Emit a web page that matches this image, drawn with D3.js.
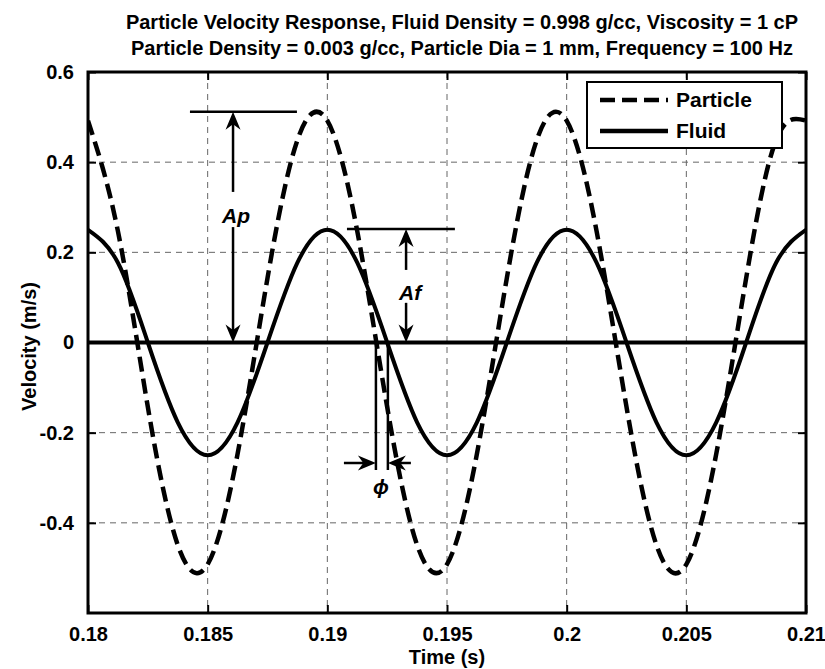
<!DOCTYPE html>
<html>
<head>
<meta charset="utf-8">
<script src="https://cdn.jsdelivr.net/npm/d3@7"></script>
<style>
  body { margin: 0; background: #fff; }
  text { font-family: "Liberation Sans", Arial, sans-serif; font-weight: bold; }
</style>
</head>
<body>
<svg width="825" height="669"></svg>
<script>
// time samples (s), every 1/8 period
var times = [0.18, 0.18125, 0.1825, 0.18375, 0.185, 0.18625, 0.1875, 0.18875,
             0.19, 0.19125, 0.1925, 0.19375, 0.195, 0.19625, 0.1975, 0.19875,
             0.2, 0.20125, 0.2025, 0.20375, 0.205, 0.20625, 0.2075, 0.20875, 0.21];
var fluidVel = [0.25, 0.177, 0, -0.177, -0.25, -0.177, 0, 0.177,
                0.25, 0.177, 0, -0.177, -0.25, -0.177, 0, 0.177,
                0.25, 0.177, 0, -0.177, -0.25, -0.177, 0, 0.177, 0.25];
var particleVel = [0.492, 0.247, -0.143, -0.449, -0.492, -0.247, 0.143, 0.449,
                   0.492, 0.247, -0.143, -0.449, -0.492, -0.247, 0.143, 0.449,
                   0.492, 0.247, -0.143, -0.449, -0.492, -0.247, 0.143, 0.449, 0.492];
var xTicks = [0.18, 0.185, 0.19, 0.195, 0.2, 0.205, 0.21];
var xTickLabels = ["0.18", "0.185", "0.19", "0.195", "0.2", "0.205", "0.21"];
var yTicks = [-0.4, -0.2, 0, 0.2, 0.4, 0.6];
var yTickLabels = ["-0.4", "-0.2", "0", "0.2", "0.4", "0.6"];
var seriesNames = ["Particle", "Fluid"];

// annotation values (data units)
var ampP = 0.512, ampF = 0.252;
var zeroP = 0.19203, zeroF = 0.19253;

var svg = d3.select("svg"),
    pL = 88, pR = 806, pT = 72, pB = 613;

var x = d3.scaleLinear().domain([0.18, 0.21]).range([pL, pR]);
var y = d3.scaleLinear().domain([-0.6, 0.6]).range([pB, pT]);

svg.append("rect").attr("width", 825).attr("height", 669).attr("fill", "#fff");

// title
var title = ["Particle Velocity Response, Fluid Density = 0.998 g/cc, Viscosity = 1 cP",
             "Particle Density = 0.003 g/cc, Particle Dia = 1 mm, Frequency = 100 Hz"];
svg.selectAll(".title").data(title).enter().append("text")
    .attr("x", (pL + pR) / 2 + 15)
    .attr("y", function(d, i) { return 29 + i * 26; })
    .attr("text-anchor", "middle")
    .attr("font-size", 20)
    .text(function(d) { return d; });

// grid
var grid = svg.append("g").attr("stroke", "#666").attr("stroke-width", 1).attr("stroke-dasharray", "6,5");
grid.selectAll("line.gx").data(xTicks.slice(1, -1)).enter().append("line")
    .attr("x1", function(d) { return x(d); }).attr("x2", function(d) { return x(d); })
    .attr("y1", pT).attr("y2", pB);
grid.selectAll("line.gy").data(yTicks.filter(function(d) { return d != 0 && d != 0.6; })).enter().append("line")
    .attr("y1", function(d) { return y(d); }).attr("y2", function(d) { return y(d); })
    .attr("x1", pL).attr("x2", pR);

// axes with inward ticks, box on
svg.append("g").attr("transform", "translate(0," + pB + ")")
    .call(d3.axisBottom(x).tickValues(xTicks).tickSize(-8).tickPadding(14)
        .tickFormat(function(d, i) { return xTickLabels[i]; }))
    .call(function(g) { g.select(".domain").remove(); });
svg.append("g").attr("transform", "translate(" + pL + ",0)")
    .call(d3.axisLeft(y).tickValues(yTicks).tickSize(-8).tickPadding(14)
        .tickFormat(function(d, i) { return yTickLabels[i]; }))
    .call(function(g) { g.select(".domain").remove(); });
svg.append("g").attr("transform", "translate(0," + pT + ")")
    .call(d3.axisTop(x).tickValues(xTicks).tickSize(-8).tickFormat(""))
    .call(function(g) { g.select(".domain").remove(); });
svg.append("g").attr("transform", "translate(" + pR + ",0)")
    .call(d3.axisRight(y).tickValues(yTicks).tickSize(-8).tickFormat(""))
    .call(function(g) { g.select(".domain").remove(); });
svg.selectAll(".tick line").attr("stroke", "#000").attr("stroke-width", 2);
svg.selectAll(".tick text").attr("font-size", 20).attr("fill", "#000")
    .attr("font-family", "Liberation Sans, Arial, sans-serif").attr("font-weight", "bold");

// curves
svg.append("clipPath").attr("id", "clip").append("rect")
    .attr("x", pL).attr("y", pT).attr("width", pR - pL).attr("height", pB - pT);
var plot = svg.append("g").attr("clip-path", "url(#clip)");

var line = d3.line().curve(d3.curveNatural)
    .x(function(d) { return x(d[0]); })
    .y(function(d) { return y(d[1]); });

plot.append("line")
    .attr("x1", x(0.18)).attr("x2", x(0.21)).attr("y1", y(0)).attr("y2", y(0))
    .attr("stroke", "#000").attr("stroke-width", 4);

plot.append("path")
    .datum(times.map(function(t, i) { return [t, fluidVel[i]]; }))
    .attr("d", line).attr("fill", "none").attr("stroke", "#000").attr("stroke-width", 4);

plot.append("path")
    .datum(times.map(function(t, i) { return [t, particleVel[i]]; }))
    .attr("d", line).attr("fill", "none").attr("stroke", "#000").attr("stroke-width", 4.5)
    .attr("stroke-dasharray", "15,7");

// frame
svg.append("rect").attr("x", pL).attr("y", pT).attr("width", pR - pL).attr("height", pB - pT)
    .attr("fill", "none").attr("stroke", "#000").attr("stroke-width", 3);

// axis labels
svg.append("text").attr("x", (pL + pR) / 2).attr("y", 664)
    .attr("text-anchor", "middle").attr("font-size", 20).text("Time (s)");
svg.append("text").attr("transform", "translate(36," + ((pT + pB) / 2 + 4) + ") rotate(-90)")
    .attr("text-anchor", "middle").attr("font-size", 20).text("Velocity (m/s)");

// arrow heads: tip at (px,py), pointing along angle
function head(px, py, ang) {
    var L = 18, W = 15;
    var pts = [[0, 0], [-L, W / 2], [-L * 0.7, 0], [-L, -W / 2]];
    svg.append("polygon")
        .attr("points", pts.map(function(p) { return p.join(","); }).join(" "))
        .attr("transform", "translate(" + px + "," + py + ") rotate(" + ang + ")")
        .attr("fill", "#000");
}
function seg(x1, y1, x2, y2) {
    svg.append("line").attr("x1", x1).attr("y1", y1).attr("x2", x2).attr("y2", y2)
        .attr("stroke", "#000").attr("stroke-width", 2.5);
}

// Ap
seg(x(0.18426), y(ampP), x(0.18873), y(ampP));
var ax = x(0.18606);
seg(ax, y(ampP) + 10, ax, y(0.334));
seg(ax, y(0.256), ax, y(0) - 10);
head(ax, y(ampP), -90);
head(ax, y(0), 90);
svg.append("text").attr("x", ax + 3).attr("y", y(0.283) + 8).attr("text-anchor", "middle")
    .attr("font-size", 21).attr("font-style", "italic").text("Ap");

// Af
seg(x(0.19082), y(ampF), x(0.19533), y(ampF));
var fx = x(0.19329);
seg(fx, y(ampF) + 10, fx, y(0.161));
seg(fx, y(0.088), fx, y(0) - 10);
head(fx, y(ampF), -90);
head(fx, y(0), 90);
svg.append("text").attr("x", fx + 4).attr("y", y(0.112) + 8).attr("text-anchor", "middle")
    .attr("font-size", 21).attr("font-style", "italic").text("Af");

// phase
seg(x(zeroP), y(0), x(zeroP), 470);
seg(x(zeroF), y(0), x(zeroF), 470);
seg(x(zeroP) - 32, 463, x(zeroP) - 8, 463);
seg(x(zeroF) + 8, 463, x(zeroF) + 23, 463);
head(x(zeroP), 463, 0);
head(x(zeroF), 463, 180);
svg.append("text").attr("x", (x(zeroP) + x(zeroF)) / 2 - 1).attr("y", 494).attr("text-anchor", "middle")
    .attr("font-size", 21).attr("font-style", "italic").attr("font-weight", "normal")
    .attr("font-family", "DejaVu Serif, serif").text("\u03d5");

// legend
var lg = svg.append("g");
lg.append("rect").attr("x", 587).attr("y", 82).attr("width", 195).attr("height", 66)
    .attr("fill", "#fff").attr("stroke", "#000").attr("stroke-width", 2);
lg.selectAll(".ll").data(seriesNames).enter().append("line")
    .attr("x1", 600).attr("x2", 668)
    .attr("y1", function(d, i) { return 100 + i * 31; }).attr("y2", function(d, i) { return 100 + i * 31; })
    .attr("stroke", "#000").attr("stroke-width", 4.5)
    .attr("stroke-dasharray", function(d, i) { return i == 0 ? "15,7" : null; });
lg.selectAll(".lt").data(seriesNames).enter().append("text")
    .attr("x", 676).attr("y", function(d, i) { return 107 + i * 31; })
    .attr("font-size", 21).text(function(d) { return d; });
</script>
</body>
</html>
